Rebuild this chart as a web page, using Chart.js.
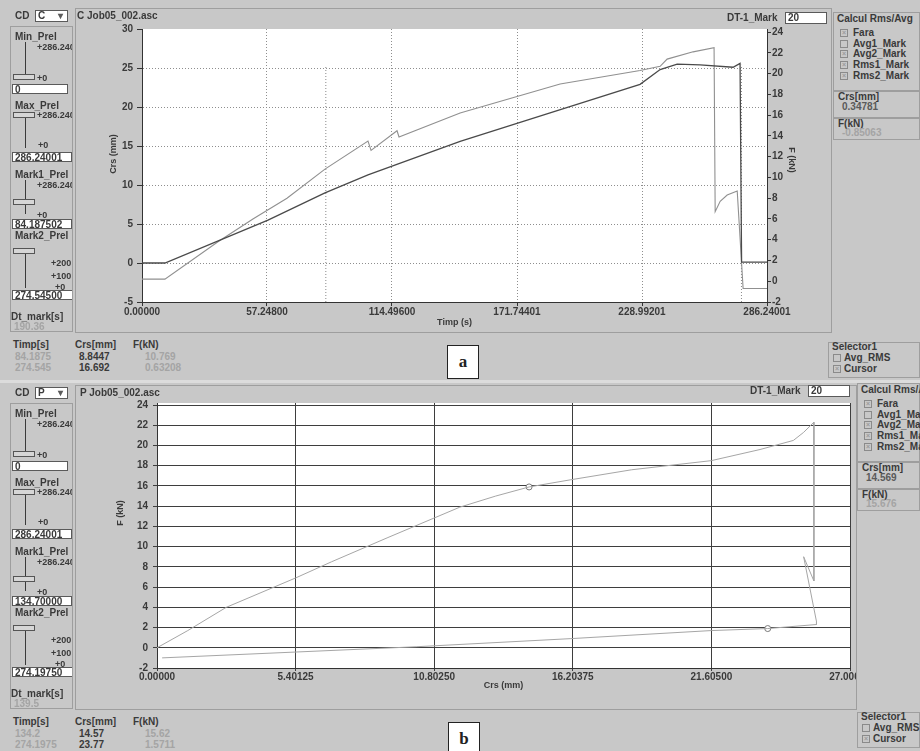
<!DOCTYPE html>
<html>
<head>
<meta charset="utf-8">
<script src="https://cdn.jsdelivr.net/npm/chart.js@4.4.1/dist/chart.umd.min.js"></script>
<style>
  body { margin: 0; width: 920px; height: 751px; background: #c8c8c8; overflow: hidden; position: relative;
         font: bold 10px "Liberation Sans", Arial, sans-serif; color: #3a3a3a; }
  .t { position: absolute; line-height: 12px; white-space: nowrap; }
  .sm { font-size: 9px; }
  .fa { color: #a4a4a4; }
  .md { color: #5a5a5a; }
  .r { position: absolute; box-sizing: border-box; }
  .grp { border: 1px solid #9e9e9e; }
  .inp { background: #fff; border: 1px solid #5a5a5a; font-size: 10px; line-height: 9px; padding-left: 2px; overflow: hidden; }
  .trk { background: #3a3a3a; width: 1px; }
  .thumb { border: 1px solid #555; background: #d6d6d6; width: 22px; height: 6px; }
  .chk { border: 1px solid #8a8a8a; width: 8px; height: 8px; font-size: 7px; line-height: 6px; text-align: center; color: #9a9a9a; }
  .clip { position: absolute; overflow: hidden; }
  .ax { position: absolute; font-size: 9px; line-height: 10px; white-space: nowrap; transform-origin: center; }
  .lab { background: #fff; border: 1px solid #222; font: bold 17px "Liberation Serif", serif; color: #222; text-align: center; }
  canvas { position: absolute; }
</style>
</head>
<body>
<canvas id="chartA" width="754" height="308" style="left:78px;top:24px"></canvas>
<canvas id="chartB" width="779" height="309" style="left:78px;top:398px"></canvas>
<script>
// ---- chart a: Crs and F against time ----
const timeCrs = [0, 10.5, 57.7, 83.8, 103.5, 145.7, 186.9, 228.1, 237.3, 245.1, 255.6, 270.7, 273.9, 274.6, 286.24];
const crsVals = [0, 0, 5.5, 9.0, 11.3, 15.6, 19.25, 22.9, 24.8, 25.5, 25.4, 25.1, 25.6, 0.1, 0.1];
const timeF = [0, 10.5, 34.8, 50.8, 66.4, 83.8, 103.5, 104.9, 116.8, 117.7, 145.7, 191.5, 228.1, 237.3, 240.5, 252.4, 262.0, 262.5, 264.8, 268.0, 272.6, 275.3, 286.24];
const fVals = [0.2, 0.2, 3.8, 6.0, 8.0, 10.8, 13.5, 12.6, 14.5, 13.9, 16.2, 19.0, 20.3, 20.7, 21.4, 22.1, 22.5, 6.7, 7.7, 8.3, 8.7, -0.7, -0.7];
const markTimes = [84.1875, 274.545];
const markTops = [25.2, 25.4];
const timeTicks = [0, 57.248, 114.496, 171.74401, 228.99201, 286.24001];
const timeTickLabels = ["0.00000", "57.24800", "114.49600", "171.74401", "228.99201", "286.24001"];
const crsTicksA = [-5, 0, 5, 10, 15, 20, 25, 30];
const fTicksA = [-2, 0, 2, 4, 6, 8, 10, 12, 14, 16, 18, 20, 22, 24];

// ---- chart b: F against Crs ----
const crsB = [0, 1.2, 2.7, 5.4, 6.8, 9.0, 11.8, 13.2, 14.5, 16.1, 18.5, 21.6, 23.5, 24.8, 25.2, 25.6, 25.6, 25.2, 25.7, 25.7, 23.8, 21.6, 16.1, 10.1, 0.2];
const fB = [0, 1.7, 4.0, 6.9, 8.5, 10.9, 13.9, 15.0, 15.9, 16.6, 17.6, 18.5, 19.6, 20.5, 21.3, 22.3, 6.6, 9.0, 2.6, 2.3, 1.9, 1.7, 0.9, 0.1, -1.0];
const markCrs = [14.5, 23.8];
const markF = [15.9, 1.9];
const crsTicksB = [0, 5.40125, 10.8025, 16.20375, 21.605, 27.00625];
const crsTickLabelsB = ["0.00000", "5.40125", "10.80250", "16.20375", "21.60500", "27.00625"];
const fTicksB = [-2, 0, 2, 4, 6, 8, 10, 12, 14, 16, 18, 20, 22, 24];

Chart.defaults.font.family = '"Liberation Sans", Arial, sans-serif';
Chart.defaults.font.size = 10;
Chart.defaults.font.weight = "bold";
Chart.defaults.color = "#3a3a3a";

const pts = (xs, ys) => xs.map((x, i) => ({ x: x, y: ys[i] }));
const fixTicks = vals => scale => { scale.ticks = vals.map(v => ({ value: v })); };
const plotBg = {
  id: "plotBg",
  beforeDraw(c) {
    const a = c.chartArea;
    c.ctx.save();
    c.ctx.fillStyle = "#ffffff";
    c.ctx.fillRect(a.left, a.top, a.right - a.left, a.bottom - a.top);
    c.ctx.restore();
  },
};
const innerOnly = n => ctx => (ctx.index === 0 || ctx.index === n - 1) ? "rgba(0,0,0,0)" : "#8e8e8e";

new Chart(document.getElementById("chartA"), {
  type: "line",
  data: {
    datasets: [
      { data: pts(timeCrs, crsVals), yAxisID: "y", borderColor: "#4a4a4a", borderWidth: 1.3 },
      { data: pts(timeF, fVals), yAxisID: "y2", borderColor: "#909090", borderWidth: 1.1 },
      ...markTimes.map((t, i) => ({
        data: [{ x: t, y: -5 }, { x: t, y: markTops[i] }], yAxisID: "y",
        borderColor: "#8a8a8a", borderWidth: 1, borderDash: [1, 2],
      })),
    ],
  },
  options: {
    responsive: false, animation: false,
    elements: { point: { radius: 0 }, line: { tension: 0 } },
    layout: { padding: { top: 5, left: 0, right: 0, bottom: 0 } },
    plugins: { legend: { display: false }, tooltip: { enabled: false } },
    scales: {
      x: {
        type: "linear", min: 0, max: 286.24001,
        afterBuildTicks: fixTicks(timeTicks),
        afterFit: s => { s.height = 30; s.paddingLeft = 0; s.paddingRight = 0; },
        ticks: { callback: (v, i) => timeTickLabels[i], autoSkip: false, maxRotation: 0, padding: 0 },
        grid: { color: innerOnly(timeTicks.length), tickColor: "#333", tickLength: 4 },
        border: { color: "#333", dash: [1, 2] },
        title: { display: true, text: "Timp (s)", font: { size: 9 }, padding: { top: 0, bottom: 4 } },
      },
      y: {
        position: "left", min: -5, max: 30,
        afterBuildTicks: fixTicks(crsTicksA),
        afterFit: s => { s.width = 64; s.paddingTop = 0; s.paddingBottom = 0; },
        ticks: { padding: 4 },
        grid: { color: innerOnly(crsTicksA.length), tickColor: "#333", tickLength: 5 },
        border: { color: "#333", dash: [1, 2] },
      },
      y2: {
        position: "right", min: -2, max: 24.3,
        afterBuildTicks: fixTicks(fTicksA),
        afterFit: s => { s.width = 65; s.paddingTop = 0; s.paddingBottom = 0; },
        ticks: { padding: 1 },
        grid: { drawOnChartArea: false, tickColor: "#333", tickLength: 4 },
        border: { color: "#333" },
      },
    },
  },
  plugins: [plotBg],
});

new Chart(document.getElementById("chartB"), {
  type: "line",
  data: {
    datasets: [
      { data: pts(crsB, fB), borderColor: "#a6a6a6", borderWidth: 1, pointRadius: 0 },
      { data: pts(markCrs, markF), showLine: false, pointRadius: 3, pointBorderColor: "#7a7a7a", pointBackgroundColor: "#ffffff", pointBorderWidth: 1 },
    ],
  },
  options: {
    responsive: false, animation: false,
    elements: { line: { tension: 0 } },
    layout: { padding: { top: 3, left: 0, right: 7, bottom: 0 } },
    plugins: { legend: { display: false }, tooltip: { enabled: false } },
    scales: {
      x: {
        type: "linear", min: 0, max: 27.00625,
        afterBuildTicks: fixTicks(crsTicksB),
        afterFit: s => { s.height = 39; s.paddingLeft = 0; s.paddingRight = 0; },
        ticks: { callback: (v, i) => crsTickLabelsB[i], autoSkip: false, maxRotation: 0, padding: 0 },
        grid: { color: "#3e3e3e", tickColor: "#3e3e3e", tickLength: 3 },
        border: { color: "#333" },
        title: { display: true, text: "Crs (mm)", font: { size: 9 }, padding: { top: 0, bottom: 16 } },
      },
      y: {
        min: -2, max: 24.2,
        afterBuildTicks: fixTicks(fTicksB),
        afterFit: s => { s.width = 79; s.paddingTop = 0; s.paddingBottom = 0; },
        ticks: { padding: 5 },
        grid: { color: "#3e3e3e", tickColor: "#3e3e3e", tickLength: 4 },
        border: { color: "#333" },
      },
    },
  },
  plugins: [plotBg],
});

// ---- surrounding software panels ----
function el(parent, cls, x, y, w, h, text) {
  const d = document.createElement("div");
  d.className = cls;
  d.style.left = x + "px";
  d.style.top = y + "px";
  if (w != null) d.style.width = w + "px";
  if (h != null) d.style.height = h + "px";
  if (text != null) d.textContent = text;
  parent.appendChild(d);
  return d;
}
const T = (p, x, y, s, c) => el(p, "t " + (c || ""), x, y - 6, null, null, s);

function panel(oy, p) {
  const b = document.body;
  el(b, "r grp", 75, oy + 8, p.bandRight - 75, 325);
  el(b, "r grp", 10, oy + 26, 63, 306);
  T(b, 15, oy + 16, "CD");
  const dd = el(b, "r inp", 35, oy + 10, 33, 12, p.cd);
  dd.style.lineHeight = "10px";
  T(b, 58, oy + 16, "▾", "md");
  T(b, p.titleX, oy + 16, p.title);

  const lp = el(b, "clip", 10, oy, 62, 332);
  const L = (x, y, s, c) => T(lp, x - 10, y, s, c);
  const R = (cls, x, y, w, h, s) => el(lp, "r " + cls, x - 10, y, w, h, s);
  L(15, 37, "Min_Prel");
  L(37, 47, "+286.24001", "sm");
  R("trk", 25, 42, 1, 34);
  R("thumb", 13, 74);
  L(37, 78, "+0", "sm");
  R("inp", 12, 84, 56, 10, "0");
  L(15, 106, "Max_Prel");
  R("thumb", 13, 112);
  L(37, 115, "+286.24001", "sm");
  R("trk", 25, 118, 1, 30);
  L(38, 145, "+0", "sm");
  R("inp", 12, 152, 60, 10, "286.24001");
  L(15, 175, "Mark1_Prel");
  L(37, 185, "+286.24001", "sm");
  R("trk", 25, 180, 1, 34);
  R("thumb", 13, 199);
  L(37, 215, "+0", "sm");
  R("inp", 12, 219, 60, 10, p.mark1);
  L(15, 236, "Mark2_Prel");
  R("thumb", 13, 248);
  R("trk", 25, 254, 1, 34);
  L(51, 263, "+200", "sm");
  L(51, 276, "+100", "sm");
  L(55, 287, "+0", "sm");
  R("inp", 12, 290, 61, 10, p.mark2);
  L(11, 317, "Dt_mark[s]");
  L(14, 327, p.dt, "fa");

  T(b, 13, oy + 345, "Timp[s]");
  T(b, 75, oy + 345, "Crs[mm]");
  T(b, 133, oy + 345, "F(kN)");
  p.rows.forEach((r, i) => {
    T(b, 15, oy + 357 + i * 11, r[0], "fa");
    T(b, 79, oy + 357 + i * 11, r[1]);
    T(b, 145, oy + 357 + i * 11, r[2], "fa");
  });

  T(b, p.dtX, p.dtY, "DT-1_Mark");
  el(b, "r inp", p.dtX + 58, p.dtY - 6, 42, 12, "20").style.lineHeight = "10px";

  el(b, "r grp", p.rpX, p.rpY - 7, 920 - p.rpX, 128);
  T(b, p.rpX + 4, p.rpY, "Calcul Rms/Avg");
  ["Fara", "Avg1_Mark", "Avg2_Mark", "Rms1_Mark", "Rms2_Mark"].forEach((s, i) => {
    const y = p.rpY + 14 + i * 10.7;
    el(b, "r chk", p.rpX + 7, y - 4, null, null, i === 1 ? "" : "×");
    T(b, p.rpX + 20, y, s);
  });
  el(b, "r grp", p.rpX, p.rpY + 71, 920 - p.rpX, 1);
  T(b, p.rpX + 5, p.rpY + 78, "Crs[mm]");
  T(b, p.rpX + 9, p.rpY + 88, p.crsNow, "md");
  el(b, "r grp", p.rpX, p.rpY + 98, 920 - p.rpX, 1);
  T(b, p.rpX + 5, p.rpY + 105, "F(kN)");
  T(b, p.rpX + 9, p.rpY + 114, p.fNow, "fa");

  el(b, "r grp", p.selX, oy + p.selY, 920 - p.selX, 36);
  T(b, p.selX + 4, oy + p.selY + 5, "Selector1");
  ["Avg_RMS", "Cursor"].forEach((s, i) => {
    const y = oy + p.selY + 16 + i * 11;
    el(b, "r chk", p.selX + 5, y - 4, null, null, i === 1 ? "×" : "");
    T(b, p.selX + 16, y, s);
  });

  el(b, "r lab", p.labX, oy + 345, 32, 34, p.lab).style.lineHeight = "32px";
}

panel(0, {
  bandRight: 832, cd: "C", title: "C  Job05_002.asc", titleX: 77,
  mark1: "84.187502", mark2: "274.54500", dt: "190.36",
  rows: [["84.1875", "8.8447", "10.769"], ["274.545", "16.692", "0.63208"]],
  dtX: 727, dtY: 18, rpX: 833, rpY: 19, crsNow: "0.34781", fNow: "-0.85063",
  selX: 828, selY: 342, labX: 447, lab: "a",
});
panel(377, {
  bandRight: 857, cd: "P", title: "P  Job05_002.asc", titleX: 80,
  mark1: "134.70000", mark2: "274.19750", dt: "139.5",
  rows: [["134.2", "14.57", "15.62"], ["274.1975", "23.77", "1.5711"]],
  dtX: 750, dtY: 391, rpX: 857, rpY: 390, crsNow: "14.569", fNow: "15.676",
  selX: 857, selY: 335, labX: 448, lab: "b",
});
el(document.body, "r", 0, 380, 920, 3).style.background = "#dcdcdc";

// rotated y-axis titles
function axTitle(cx, cy, s, deg) {
  const d = el(document.body, "ax", cx - 30, cy - 5, 60, 10, s);
  d.style.textAlign = "center";
  d.style.transform = "rotate(" + deg + "deg)";
}
axTitle(113, 154, "Crs (mm)", -90);
axTitle(792, 160, "F (kN)", 90);
axTitle(120, 513, "F (kN)", -90);
</script>
</body>
</html>
